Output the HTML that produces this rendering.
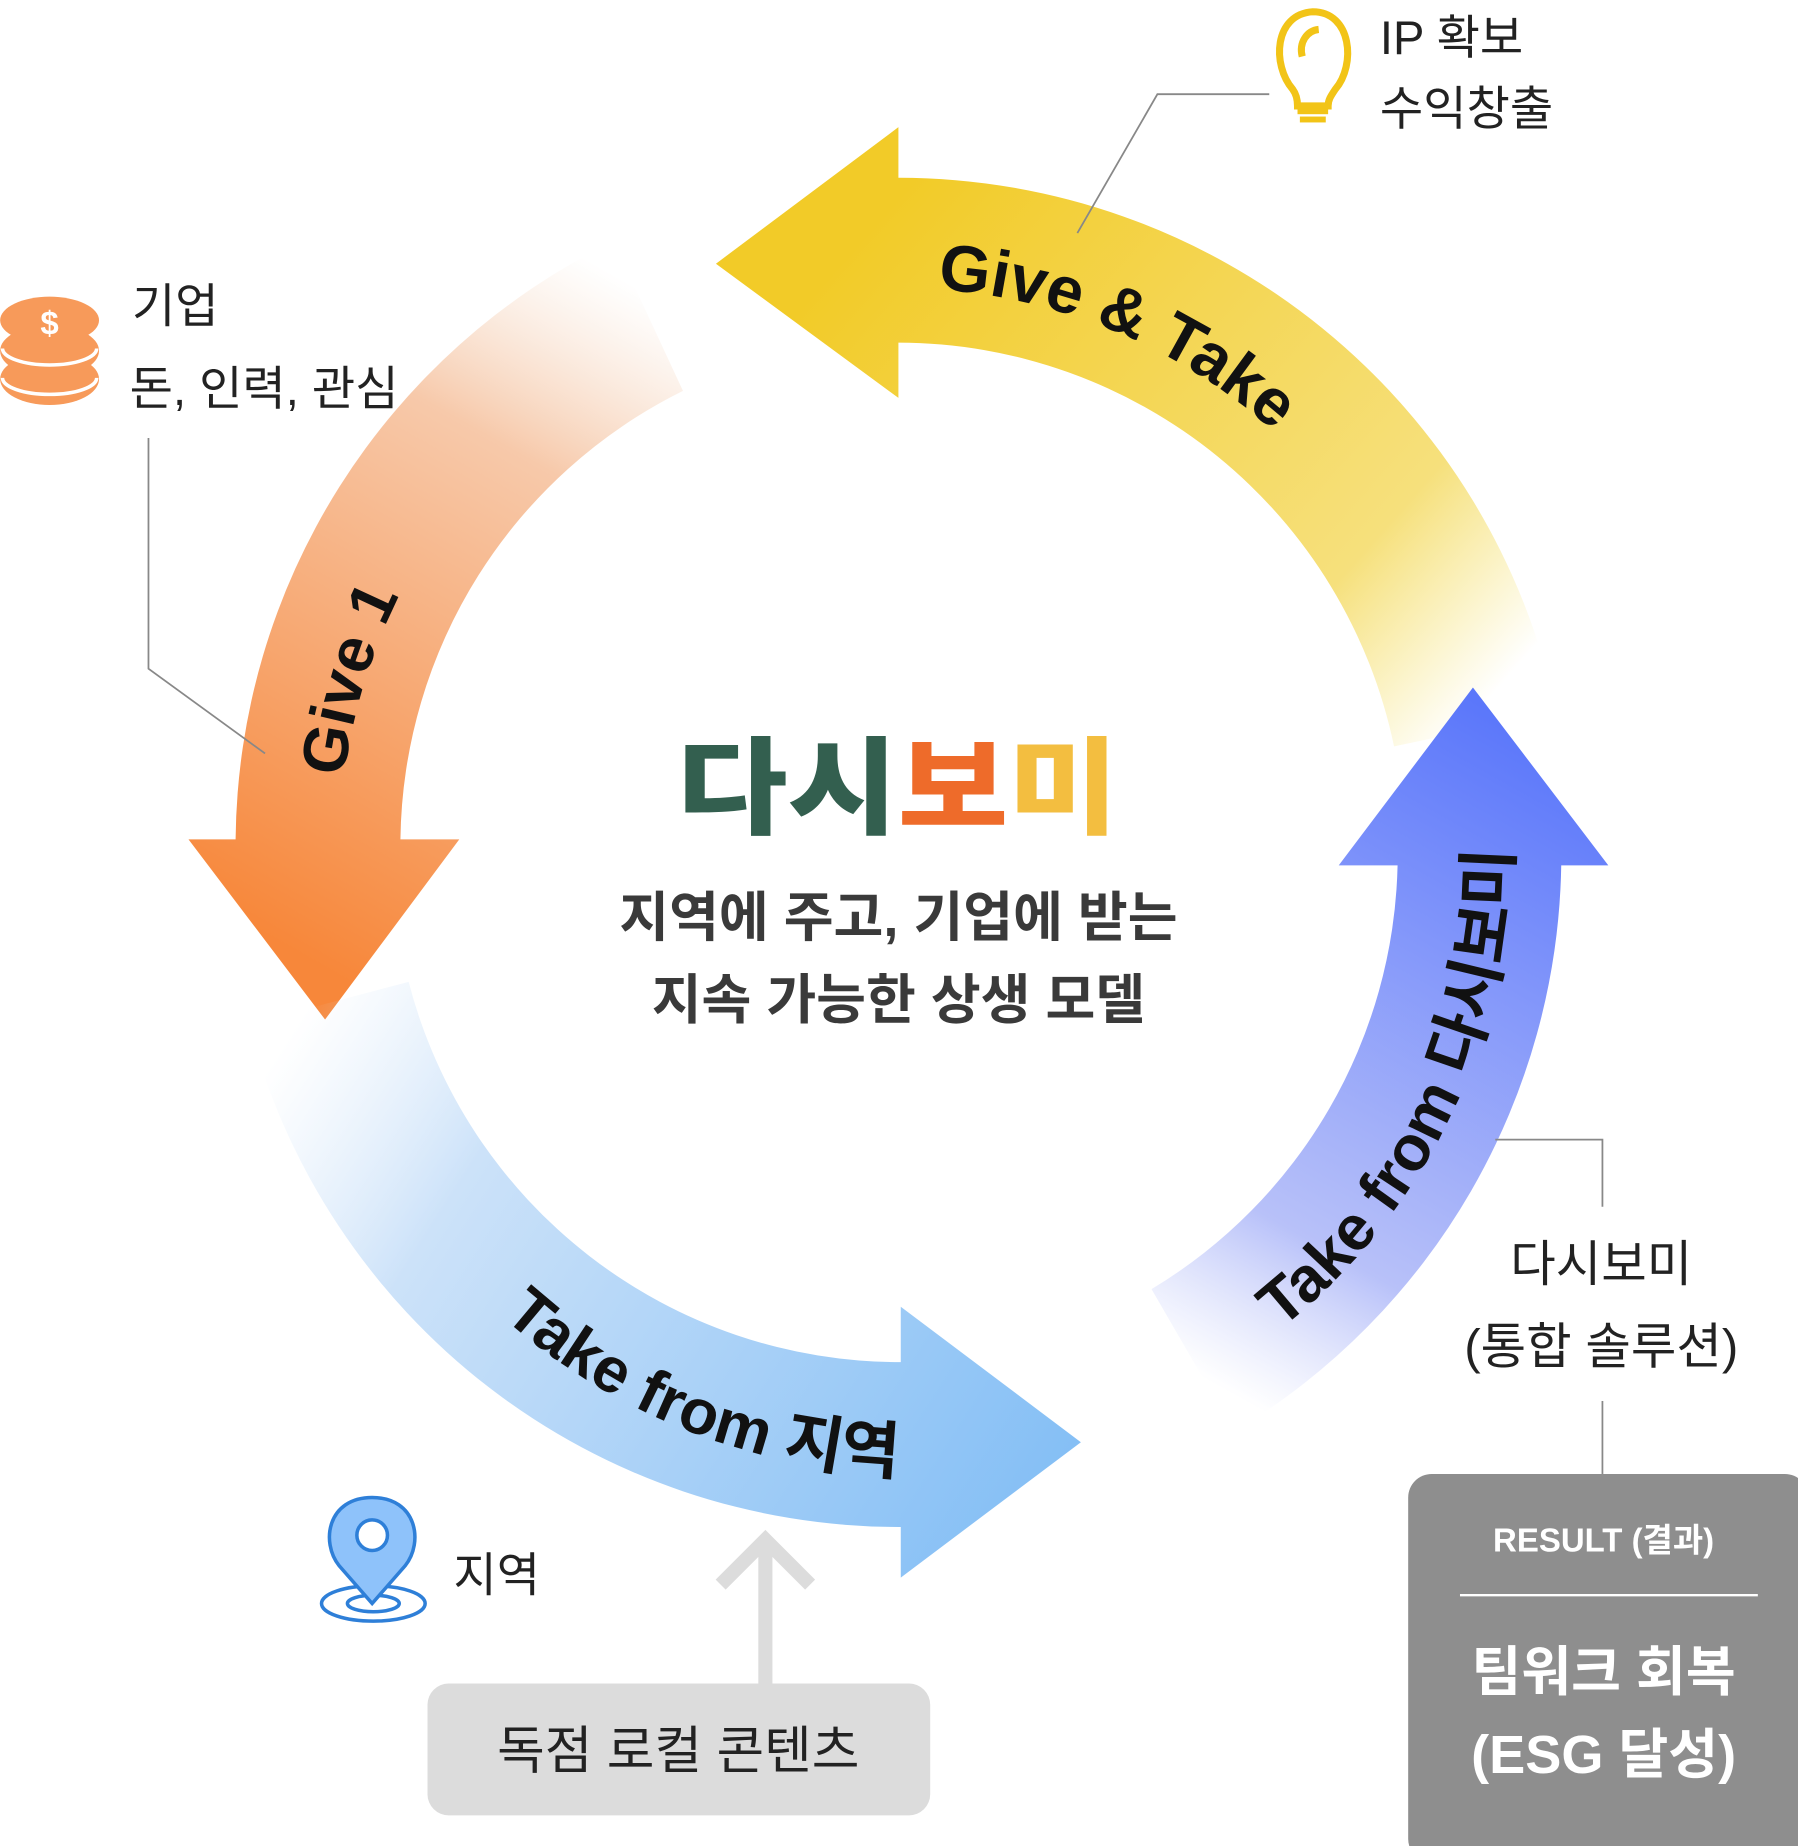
<!DOCTYPE html>
<html><head><meta charset="utf-8"><style>
html,body{margin:0;padding:0;background:#fff;}
svg{display:block;}
text{font-family:"Liberation Sans","Noto Sans CJK KR",sans-serif;}
</style></head><body>
<svg width="1798" height="1846" viewBox="0 0 1527 1568" xmlns="http://www.w3.org/2000/svg">
<defs>
<linearGradient id="gy" gradientUnits="userSpaceOnUse" x1="1290" y1="640" x2="760" y2="170">
<stop offset="0.07" stop-color="#F6E680" stop-opacity="0"/><stop offset="0.3" stop-color="#F6E07C"/><stop offset="1" stop-color="#F2CB28"/></linearGradient>
<linearGradient id="go" gradientUnits="userSpaceOnUse" x1="610" y1="220" x2="270" y2="820">
<stop offset="0.08" stop-color="#F5DCC8" stop-opacity="0"/><stop offset="0.33" stop-color="#F7C9AA"/><stop offset="1" stop-color="#F7873A"/></linearGradient>
<linearGradient id="gb" gradientUnits="userSpaceOnUse" x1="240" y1="800" x2="910" y2="1230">
<stop offset="0.06" stop-color="#DDEBFA" stop-opacity="0"/><stop offset="0.3" stop-color="#CCE2F9"/><stop offset="1" stop-color="#85BFF5"/></linearGradient>
<linearGradient id="gp" gradientUnits="userSpaceOnUse" x1="920" y1="1210" x2="1260" y2="600">
<stop offset="0.12" stop-color="#CCD3FA" stop-opacity="0"/><stop offset="0.33" stop-color="#B8C1F9"/><stop offset="1" stop-color="#5B77FA"/></linearGradient>
<path id="tp1" d="M 726 246 A 478 478 0 0 1 1241 722"/>
<path id="tp2" d="M 290 760 A 478 478 0 0 1 505 320"/>
<path id="tp3" d="M 330 1005 A 530 530 0 0 0 780 1252"/>
<path id="tp4" d="M 1080 1135 A 520 520 0 0 0 1283 700"/>
</defs>
<path d="M 1184 634 A 431 431 0 0 0 763 291 L763 338 L608 224 L763 108 L763 151 A 571 571 0 0 1 1322 605 Z" fill="url(#gy)"/>
<path d="M 521 205 A 571 571 0 0 0 200 713 L160 713 L276 866 L390 713 L340 713 A 431 431 0 0 1 580 332 Z" fill="url(#go)"/>
<path d="M 211 870 A 571 571 0 0 0 765 1297 L765 1340 L918 1225 L765 1110 L765 1157 A 431 431 0 0 1 347 834 Z" fill="url(#gb)"/>
<path d="M 1048 1216 A 571 571 0 0 0 1326 735 L1366 735 L1251 584 L1137 735 L1187 735 A 431 431 0 0 1 978 1095 Z" fill="url(#gp)"/>
<text font-size="56" font-weight="bold" fill="#111"><textPath href="#tp1" startOffset="70">Give &amp; Take</textPath></text>
<text font-size="54" font-weight="bold" fill="#111"><textPath href="#tp2" startOffset="100">Give 1</textPath></text>
<text font-size="54" font-weight="bold" fill="#111"><textPath href="#tp3" startOffset="150">Take from 지역</textPath></text>
<text font-size="54" font-weight="bold" fill="#111"><textPath href="#tp4" startOffset="10">Take from 다시보미</textPath></text>
<text x="575" y="701" textLength="375" lengthAdjust="spacingAndGlyphs" font-size="90" font-weight="900"><tspan fill="#335F4F">다시</tspan><tspan fill="#EE6B2A">보</tspan><tspan fill="#F3BE40">미</tspan></text>
<text x="763" y="795" text-anchor="middle" font-size="46" font-weight="bold" fill="#3a3a3a">지역에 주고, 기업에 받는</text>
<text x="763" y="865" text-anchor="middle" font-size="46" font-weight="bold" fill="#3a3a3a">지속 가능한 상생 모델</text>
<polyline points="915,198 983,80 1078,80" fill="none" stroke="#888" stroke-width="1.5"/>
<g fill="none" stroke="#F2C417" stroke-width="6">
<path d="M1098 76 C1080 55 1082 12 1115 10 C1148 10 1152 55 1134 76 C1130 82 1128 85 1128 90 L1102 90 C1102 85 1101 80 1098 76 Z"/>
<path d="M1106 48 C1103 36 1110 26 1120 25"/>
</g>
<rect x="1102" y="92" width="26" height="5" fill="#F2C417"/><rect x="1104" y="99" width="22" height="5" fill="#F2C417"/>
<text x="1172" y="46" font-size="40" fill="#222">IP 확보</text>
<text x="1172" y="106" font-size="40" fill="#222">수익창출</text>
<g fill="#F79A5A">
<ellipse cx="42" cy="322" rx="42" ry="22"/>
<ellipse cx="42" cy="298" rx="42" ry="22"/>
<ellipse cx="42" cy="272" rx="42" ry="20"/>
</g>
<path d="M2 296 A40 14 0 0 0 82 296 M2 321 A40 14 0 0 0 82 321" stroke="#fff" stroke-width="3" fill="none"/>
<text x="42" y="284" text-anchor="middle" font-size="28" font-weight="bold" fill="#fff">$</text>
<text x="112" y="274" font-size="40" fill="#222">기업</text>
<text x="110" y="344" font-size="40" fill="#222">돈, 인력, 관심</text>
<polyline points="126,372 126,568 225,640" fill="none" stroke="#888" stroke-width="1.5"/>
<ellipse cx="317" cy="1362" rx="44" ry="15" fill="none" stroke="#2E7FD8" stroke-width="3"/>
<ellipse cx="317" cy="1362" rx="22" ry="7" fill="none" stroke="#2E7FD8" stroke-width="3"/>
<path d="M316 1362 L288 1330 C272 1310 278 1272 316 1272 C354 1272 360 1310 344 1330 Z" fill="#8EC2FA" stroke="#2E7FD8" stroke-width="3"/>
<circle cx="316" cy="1304" r="13" fill="#fff" stroke="#2E7FD8" stroke-width="3"/>
<text x="385" y="1352" font-size="40" fill="#222">지역</text>
<path d="M650 1430 L650 1310 M612 1346 L650 1308 L688 1346" stroke="#DCDCDC" stroke-width="12" fill="none"/>
<rect x="363" y="1430" width="427" height="112" rx="18" fill="#DCDCDC"/>
<text x="576" y="1502" text-anchor="middle" font-size="44" fill="#222">독점 로컬 콘텐츠</text>
<polyline points="1270,968 1361,968 1361,1025" fill="none" stroke="#888" stroke-width="1.5"/>
<text x="1360" y="1088" text-anchor="middle" font-size="42" fill="#222">다시보미</text>
<text x="1360" y="1158" text-anchor="middle" font-size="42" fill="#222">(통합 솔루션)</text>
<line x1="1361" y1="1190" x2="1361" y2="1252" stroke="#888" stroke-width="1.5"/>
<rect x="1196" y="1252" width="340" height="330" rx="20" fill="#8E8E8E"/>
<text x="1362" y="1318" text-anchor="middle" font-size="28" font-weight="bold" fill="#fff">RESULT (결과)</text>
<line x1="1240" y1="1355" x2="1493" y2="1355" stroke="#fff" stroke-width="2"/>
<text x="1362" y="1436" text-anchor="middle" font-size="46" font-weight="bold" fill="#fff">팀워크 회복</text>
<text x="1362" y="1506" text-anchor="middle" font-size="46" font-weight="bold" fill="#fff">(ESG 달성)</text>
</svg>
</body></html>
